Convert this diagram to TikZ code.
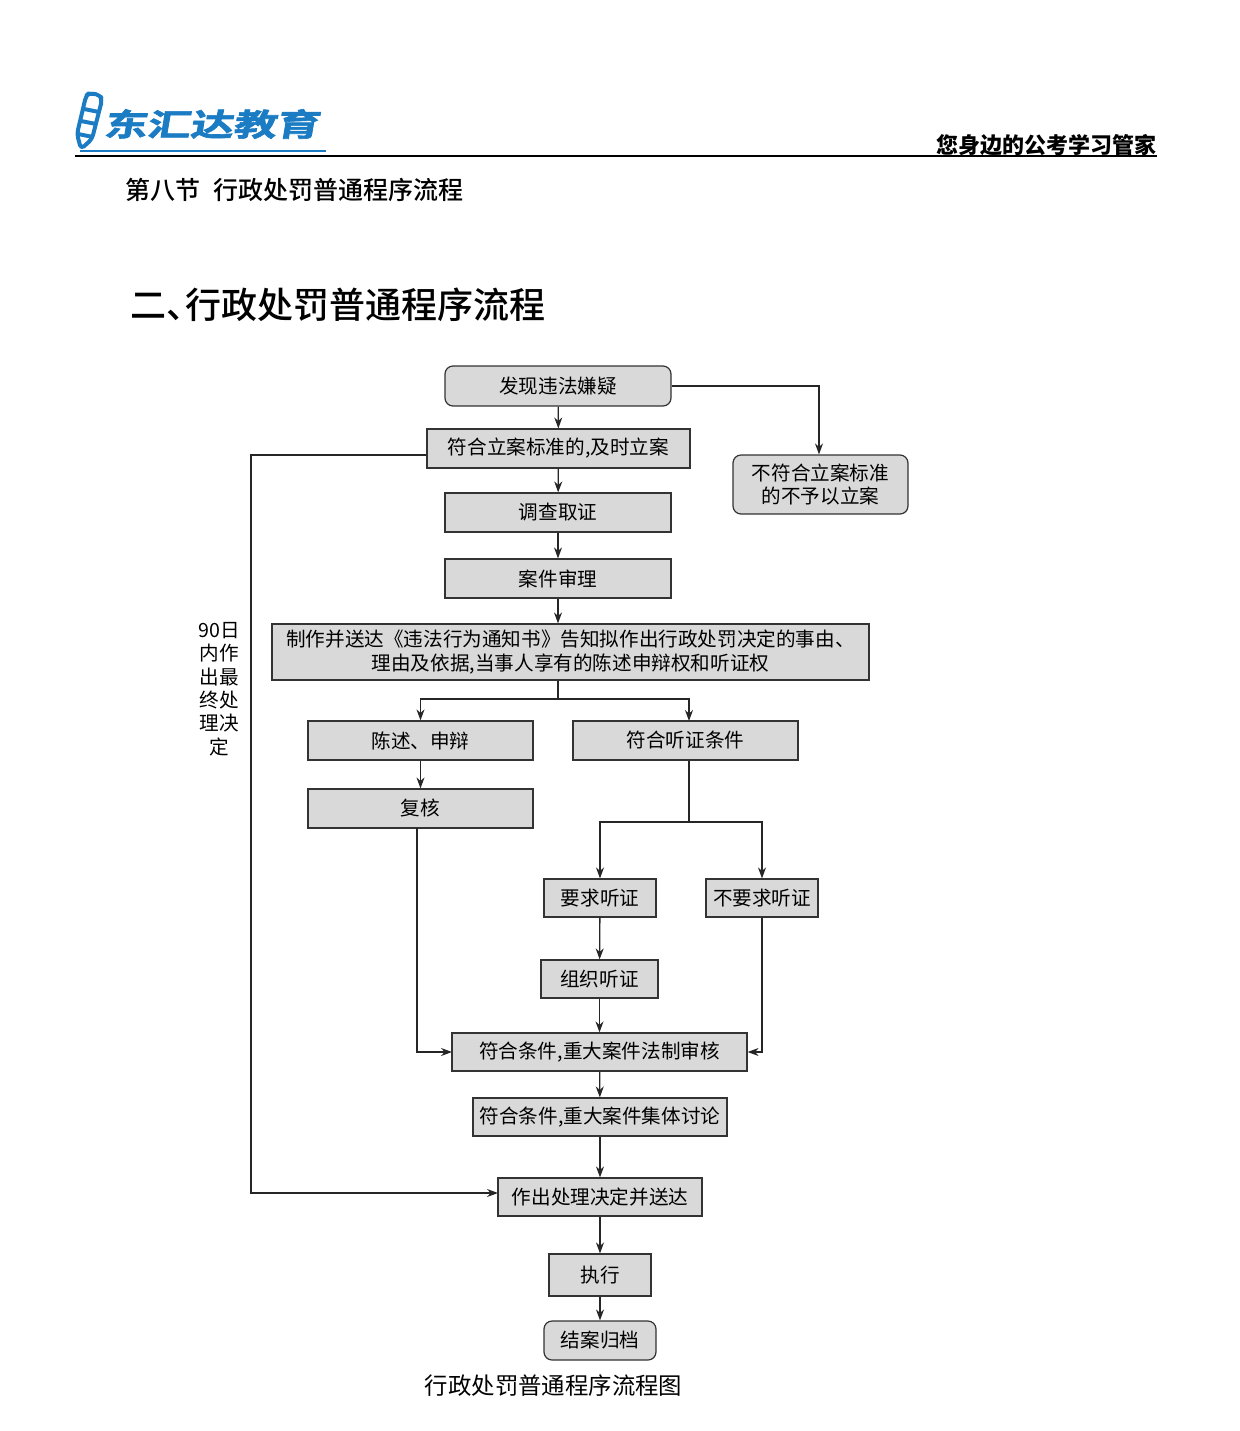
\documentclass[tikz,border=0pt]{standalone}
\usepackage{fontspec}
\setmainfont{Noto Sans CJK SC}
\newfontfamily\mediumfont{Noto Sans CJK SC Medium}
\newfontfamily\logofont[FakeBold=2]{Noto Sans CJK SC Bold}
\usetikzlibrary{arrows.meta}
\definecolor{boxgray}{HTML}{D9D9D9}
\definecolor{logoblue}{HTML}{1B7CC4}
\tikzset{
	box/.style = {
		rectangle,
		align=center,
		inner sep=0pt,
		draw=black!80,
		fill=boxgray,
		line width=0.6pt,
		font=\fontsize{9.8}{11.7}\selectfont
	},
	box_round/.style = {
		box,
		rounded corners=4pt
	},
	link/.style = {
		-{Stealth[length=5.5pt,width=4pt]},
		draw=black!85,
		line width=0.65pt
	},
	link_plain/.style = {
		link,
		-
	},
	title_sec/.style = {
		anchor=west,
		inner sep=0pt,
		font=\mediumfont\fontsize{12.5}{15}\selectfont
	},
}

\begin{document}
\begin{tikzpicture}[x=0.5pt,y=-0.5pt]
\useasboundingbox (0,0) rectangle (1240,1431);
% page head
\path[draw=logoblue,line width=0.7pt] (80,151) -- (326,151);
\path[draw=black,line width=0.6pt] (75,156) -- (1157,156);
\path[draw=logoblue,line width=2pt,rounded corners=2pt,line join=round]
	(86,96) -- (89,93) -- (100,95) -- (102,100) -- (92,139) -- (81,149) -- (77,134) -- cycle;
\path[draw=logoblue,line width=2pt] (84,109) -- (99,112) (81,121) -- (96,124) (78,134) -- (93,137);
\node [anchor=west,inner sep=0pt,text=logoblue,xscale=1.39,xslant=0.12,font=\logofont\fontsize{15.5}{15.5}\selectfont] (logo) at (105,124) {东汇达教育};
\node [anchor=east,inner sep=0pt,font=\fontsize{11}{14}\bfseries\selectfont] (slogan) at (1157,145) {您身边的公考学习管家};
\node [title_sec] (sec) at (125,190) {第八节\hspace{6.5pt}行政处罚普通程序流程};
\node [anchor=west,inner sep=0pt,font=\mediumfont\fontsize{18}{20}\selectfont] (head) at (130,305) {二、\kern-8.5pt行政处罚普通程序流程};
% flow
\node [box_round,minimum width=113pt,minimum height=20pt] (found) at (558,386) {发现违法嫌疑};
\node [box,minimum width=131.5pt,minimum height=19.5pt] (accept) at (558.5,448.5) {符合立案标准的,及时立案};
\node [box_round,minimum width=87.5pt,minimum height=29.5pt] (reject) at (820.5,484.5) {不符合立案标准\\的不予以立案};
\node [box,minimum width=113pt,minimum height=19.5pt] (inquiry) at (558,512.5) {调查取证};
\node [box,minimum width=113pt,minimum height=19.5pt] (review) at (558,578.5) {案件审理};
\node [box,minimum width=298.5pt,minimum height=28pt] (notice) at (570.5,652) {制作并送达《违法行为通知书》告知拟作出行政处罚决定的事由、\\理由及依据,当事人享有的陈述申辩权和听证权};
\node [box,minimum width=112.5pt,minimum height=19.5pt] (defend) at (420.5,740.5) {陈述、申辩};
\node [box,minimum width=112.5pt,minimum height=19.5pt] (hearing) at (685.5,740.5) {符合听证条件};
\node [box,minimum width=112.5pt,minimum height=19.5pt] (recheck) at (420.5,808.5) {复核};
\node [box,minimum width=56pt,minimum height=19pt] (ask) at (600,898) {要求听证};
\node [box,minimum width=56pt,minimum height=19pt] (noask) at (762,898) {不要求听证};
\node [box,minimum width=58.5pt,minimum height=19pt] (organize) at (599.5,979) {组织听证};
\node [box,minimum width=147.5pt,minimum height=19pt] (legal) at (599.5,1052) {符合条件,重大案件法制审核};
\node [box,minimum width=127pt,minimum height=19pt] (group) at (600,1117) {符合条件,重大案件集体讨论};
\node [box,minimum width=102pt,minimum height=19pt] (decide) at (600,1197) {作出处理决定并送达};
\node [box,minimum width=51pt,minimum height=21pt] (execute) at (600,1275) {执行};
\node [box_round,minimum width=56pt,minimum height=19.5pt] (close) at (600,1340.5) {结案归档};
\node [align=center,inner sep=0pt,font=\fontsize{9.8}{11.7}\selectfont] (days) at (219,689) {90日\\内作\\出最\\终处\\理决\\定};
\node [inner sep=0pt,font=\fontsize{11.7}{14}\selectfont] (caption) at (553.5,1386) {行政处罚普通程序流程图};
% turning points
\coordinate (split_a) at (558,699);
\coordinate (hear_x) at (689,721);
\coordinate (split_b) at (689,822);
\coordinate (left_x) at (251,700);
\coordinate (recheck_x) at (417,828);
\coordinate (legal_w) at (452,1052);
\coordinate (decide_w) at (498,1193);
% connectors
\draw [link] (found) -- (accept);
\draw [link] (found.east) -| (reject.north -| 819,0);
\draw [link] (accept) -- (inquiry);
\draw [link] (inquiry) -- (review);
\draw [link] (review) -- (review |- notice.north);
\draw [link_plain] (review |- notice.south) -- (split_a);
\draw [link] (split_a) -| (defend.north);
\draw [link] (split_a) -| (hear_x);
\draw [link] (defend) -- (recheck);
\draw [link_plain] (hear_x |- hearing.south) -- (split_b);
\draw [link] (split_b) -| (ask.north);
\draw [link] (split_b) -| (noask.north);
\draw [link] (ask) -- (organize);
\draw [link] (organize) -- (legal);
\draw [link] (recheck_x) |- (legal_w);
\draw [link] (noask.south) |- (legal.east);
\draw [link] (legal) -- (group);
\draw [link] (group) -- (decide);
\draw [link] (decide) -- (execute);
\draw [link] (execute) -- (close);
\draw [link_plain] (accept.west |- 0,455) -| (left_x);
\draw [link] (left_x) |- (decide_w);
\end{tikzpicture}
\end{document}
